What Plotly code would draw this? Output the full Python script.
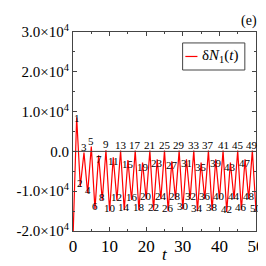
import plotly.graph_objects as go

t = list(range(0, 51))
dN1 = [-22000, 8500, -8800, -300, -10500, 1200, -14500, -1000, -12300, 300,
       -15000, -1500, -12300, 200, -14800, -2200, -12200, 200, -14800, -2800,
       -12000, 200, -14800, -2000, -12000, 200, -15000, -2500, -12000, 200,
       -14500, -2000, -12000, 200, -15000, -2800, -12000, 200, -14800, -2000,
       -12000, 200, -15200, -2800, -12000, 200, -14800, -2000, -12000, 200,
       -15000]
assert len(dN1) == len(t)

y_tickvals = [-20000, -10000, 0, 10000, 20000, 30000]
y_ticktext = ["-2.0×10<sup>4</sup>", "-1.0×10<sup>4</sup>", "0.0",
              "1.0×10<sup>4</sup>", "2.0×10<sup>4</sup>", "3.0×10<sup>4</sup>"]
x_tickvals = [0, 10, 20, 30, 40, 50]
x_ticktext = ["0", "10", "20", "30", "40", "50"]

SERIF = "Liberation Serif, Times New Roman, serif"

fig = go.Figure()
fig.add_trace(go.Scatter(x=t, y=dN1, mode="lines",
                         line=dict(color="#ff0000", width=1.2),
                         showlegend=False))

# zero reference line
fig.add_hline(y=0, line=dict(color="#444444", width=1))

# point labels
for ti, v in zip(t[1:], dN1[1:]):
    if ti == 1:
        ys = 0
    elif ti % 2 == 0:
        ys = 3
    elif ti % 4 == 1 or ti == 3:
        ys = 6
    else:
        ys = -4
    fig.add_annotation(x=ti, y=v, text=str(ti), showarrow=False, yshift=ys,
                       font=dict(family=SERIF, size=11, color="black"))

axis_common = dict(showline=True, linecolor="#444444", linewidth=1, mirror="ticks",
                   ticks="inside", ticklen=4, tickcolor="#444444", showgrid=False,
                   zeroline=False)

fig.update_xaxes(range=[0, 50], tickmode="array", tickvals=x_tickvals, ticktext=x_ticktext,
                 minor=dict(dtick=5, tick0=0, ticklen=2, ticks="inside", tickcolor="#444444"),
                 tickfont=dict(family=SERIF, size=17, color="black"),
                 **axis_common)
fig.update_yaxes(range=[-20000, 30000], tickmode="array", tickvals=y_tickvals,
                 ticktext=y_ticktext,
                 minor=dict(dtick=5000, tick0=0, ticklen=2, ticks="inside", tickcolor="#444444"),
                 tickfont=dict(family=SERIF, size=15, color="black"),
                 **axis_common)

# x-axis title
fig.add_annotation(xref="paper", yref="paper", x=0.5, y=-0.118, xanchor="center",
                   yanchor="middle", text="<i>t</i>", showarrow=False,
                   font=dict(family=SERIF, size=17, color="black"))

# custom legend
fig.add_shape(type="rect", xref="paper", yref="paper", x0=0.599, x1=0.939, y0=0.809, y1=0.945,
              line=dict(color="#444444", width=1), fillcolor="white")
fig.add_shape(type="line", xref="paper", yref="paper", x0=0.614, x1=0.680, y0=0.877, y1=0.877,
              line=dict(color="#ff0000", width=1.2))
fig.add_annotation(xref="paper", yref="paper", x=0.695, y=0.877, xanchor="left", yanchor="middle",
                   text="δ<i>N</i><sub>1</sub>(<i>t</i>)", showarrow=False,
                   font=dict(family=SERIF, size=15, color="black"))

# panel label
fig.add_annotation(xref="paper", yref="paper", x=0.96, y=1.0, xanchor="center", yanchor="bottom",
                   text="(e)", showarrow=False, yshift=1,
                   font=dict(family=SERIF, size=14, color="black"))

fig.update_layout(width=266, height=266, margin=dict(l=60, r=9, t=24, b=43),
                  paper_bgcolor="white", plot_bgcolor="white", showlegend=False)

fig.write_html("out.html")
